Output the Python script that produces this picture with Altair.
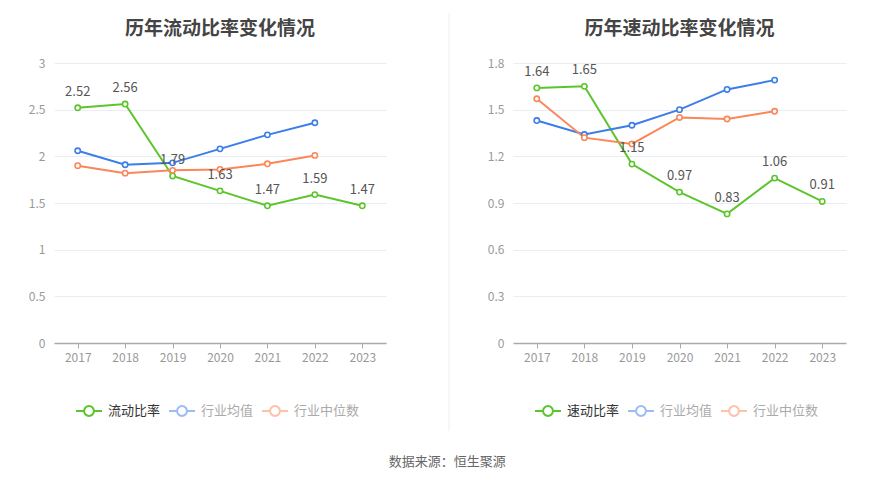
import altair as alt
import pandas as pd

years = ["2017", "2018", "2019", "2020", "2021", "2022", "2023"]

current_ratio = [2.52, 2.56, 1.79, 1.63, 1.47, 1.59, 1.47]
current_avg = [2.06, 1.91, 1.93, 2.08, 2.23, 2.36]
current_med = [1.90, 1.82, 1.85, 1.86, 1.92, 2.01]

quick_ratio = [1.64, 1.65, 1.15, 0.97, 0.83, 1.06, 0.91]
quick_avg = [1.43, 1.34, 1.40, 1.50, 1.63, 1.69]
quick_med = [1.57, 1.32, 1.28, 1.45, 1.44, 1.49]

left_ticks = [0, 0.5, 1, 1.5, 2, 2.5, 3]
right_ticks = [0, 0.3, 0.6, 0.9, 1.2, 1.5, 1.8]

colors = ["#5bc52b", "#3b7de9", "#fb8657"]
FONT = "Noto Sans CJK SC"
LEG_PATH = ("M-1,0L-0.38,0M0.38,0A0.38,0.38,0,1,1,-0.38,0"
            "A0.38,0.38,0,1,1,0.38,0M0.38,0L1,0")


def make_chart(title, main_name, main_vals, avg_vals, med_vals, ymax, ticks, width, divider=False):
    rows = []
    for name, vals in [(main_name, main_vals), ("行业均值", avg_vals), ("行业中位数", med_vals)]:
        for y, v in zip(years, vals):
            rows.append({"year": y, "series": name, "value": v})
    df = pd.DataFrame(rows)
    df_main = df[df["series"] == main_name]
    domain = [main_name, "行业均值", "行业中位数"]

    x = alt.X("year:N", sort=years, title=None,
              axis=alt.Axis(labelAngle=0, labelColor="#999", labelFontSize=12, labelFont=FONT,
                            domainColor="#aaa", domainWidth=1.5, tickColor="#aaa", tickSize=5,
                            labelPadding=4, grid=False))
    y = alt.Y("value:Q", title=None, scale=alt.Scale(domain=[0, ymax], nice=False, zero=True),
              axis=alt.Axis(values=ticks, format="~g", labelColor="#999", labelFontSize=12,
                            labelFont=FONT, domain=False, ticks=False, labelPadding=9,
                            gridColor="#e8ecf3", gridWidth=1))
    color = alt.Color(
        "series:N", sort=domain,
        scale=alt.Scale(domain=domain, range=colors),
        legend=alt.Legend(
            title=None, orient="none", direction="horizontal", legendX=21, legendY=334,
            gridAlign="none",
            symbolType=LEG_PATH, symbolSize=676, symbolStrokeWidth=2, symbolFillColor="white",
            symbolOpacity=alt.ExprRef(expr=f"datum.value === '{main_name}' ? 1 : 0.5"),
            labelColor=alt.ExprRef(expr=f"datum.value === '{main_name}' ? '#333' : '#aaa'"),
            labelFont=FONT, labelFontSize=13, labelOffset=5, columnPadding=4,
        ),
    )
    base = alt.Chart(df).encode(x=x, y=y, color=color)
    lines = base.mark_line(strokeWidth=2)
    pts = base.mark_point(filled=False, fill="white", size=28, strokeWidth=1.6, opacity=1)
    labels = alt.Chart(df_main).mark_text(dy=-16, fontSize=13, color="#555", font=FONT).encode(
        x=alt.X("year:N", sort=years), y=alt.Y("value:Q"),
        text=alt.Text("value:Q", format=".2f"))
    # vertical divider (visible only on the right panel; invisible twin keeps panels aligned)
    rule = alt.Chart(pd.DataFrame({"a": [0]})).mark_rule(
        color="#eeeeee", strokeWidth=1, opacity=1 if divider else 0).encode(
        x=alt.value(-64 if divider else 0), y=alt.value(-50), y2=alt.value(368))
    return alt.layer(rule, lines, pts, labels).properties(
        width=width, height=280,
        title=alt.TitleParams(text=title, fontSize=19, font=FONT, fontWeight="bold",
                              color="#444", anchor="middle", frame="group", offset=-26),
    )


left = make_chart("历年流动比率变化情况", "流动比率", current_ratio, current_avg, current_med,
                  3, left_ticks, 332)
right = make_chart("历年速动比率变化情况", "速动比率", quick_ratio, quick_avg, quick_med,
                   1.8, right_ticks, 333, divider=True)

chart = alt.hconcat(left, right, spacing=62).resolve_scale(
    color="independent", x="independent", y="independent"
).resolve_legend(color="independent").properties(
    padding={"left": 20, "top": 4, "right": 5, "bottom": 5},
    title=alt.TitleParams(text="数据来源：恒生聚源", orient="bottom", anchor="middle",
                          fontSize=13, font=FONT, fontWeight="normal", color="#666",
                          offset=24, dx=10),
).configure_view(stroke=None)

chart.save("out.html", embed_options={"renderer": "svg", "actions": False})
